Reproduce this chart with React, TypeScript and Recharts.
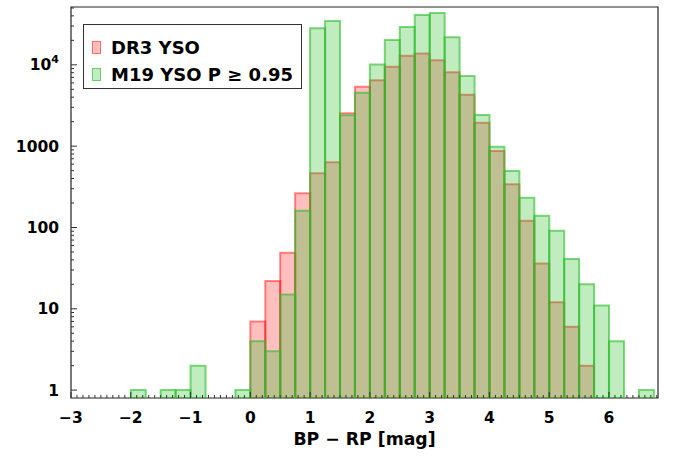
import { ComposedChart, Bar, XAxis, YAxis, Legend, ReferenceArea } from 'recharts';

// lower edge of each colour bin (width 0.25 mag)
const BIN_WIDTH = 0.25;
const binStart = [
    -2, -1.75, -1.5, -1.25, -1, -0.75, -0.5, -0.25,
    0, 0.25, 0.5, 0.75, 1, 1.25, 1.5, 1.75, 2, 2.25, 2.5, 2.75,
    3, 3.25, 3.5, 3.75, 4, 4.25, 4.5, 4.75, 5, 5.25, 5.5, 5.75,
    6, 6.25, 6.5,
];

// counts per bin
const dr3Counts = [
    0, 0, 0, 0, 0, 0, 0, 0,
    7, 22, 49, 263, 463, 632, 2530, 5380, 6450, 9480, 12900, 13800,
    11400, 8090, 4290, 1940, 870, 339, 121, 36, 12, 6, 2, 0,
    0, 0, 0,
];
const m19Counts = [
    1, 0, 1, 1, 2, 0, 0, 1,
    4, 3, 15, 160, 28100, 34600, 2390, 4540, 10100, 20200, 29200, 41000,
    43400, 21800, 7280, 2410, 984, 494, 232, 139, 91, 41, 20, 11,
    4, 0, 1,
];

const xMajorTicks = [-3, -2, -1, 0, 1, 2, 3, 4, 5, 6];
const yMajorTicks = [1, 10, 100, 1000, 10000];

const X_DOMAIN = [-3, 6.82];
const Y_DOMAIN = [0.8, 51400];

const FONT = '"DejaVu Sans", sans-serif';

// zero counts can't sit on a log axis
const data = binStart.map((s, i) => ({
    x: s + BIN_WIDTH / 2,
    dr3: dr3Counts[i] > 0 ? dr3Counts[i] : null,
    m19: m19Counts[i] > 0 ? m19Counts[i] : null,
}));

// minor ticks: every 0.1 on x, 2..9 per decade on y
const xTicks = xMajorTicks.flatMap(t => Array.from({ length: 10 }, (_, k) => +(t + k / 10).toFixed(2)))
    .filter(t => t <= X_DOMAIN[1]);
const yTicks = yMajorTicks.flatMap(t => [1, 2, 3, 4, 5, 6, 7, 8, 9].map(m => t * m))
    .filter(t => t <= Y_DOMAIN[1]);

function XTick(props: any) {
    const { x, y, payload } = props;
    const v = payload.value;
    const major = Math.abs(v - Math.round(v)) < 1e-6;
    return (
        <g>
            <line x1={x} x2={x} y1={y} y2={y - (major ? 6 : 3)} stroke="#333" strokeWidth={1} />
            {major && (
                <text x={x} y={y + 25} textAnchor="middle" fontFamily={FONT} fontWeight="bold" fontSize={15.5} fill="#000">
                    {v < 0 ? `\u2212${Math.abs(v)}` : `${v}`}
                </text>
            )}
        </g>
    );
}

function YTick(props: any) {
    const { x, y, payload } = props;
    const v = payload.value;
    const major = yMajorTicks.includes(v);
    return (
        <g>
            <line x1={x} x2={x + (major ? 6 : 3)} y1={y} y2={y} stroke="#333" strokeWidth={1} />
            {major && (
                <text x={x - 12} y={y + 5.5} textAnchor="end" fontFamily={FONT} fontWeight="bold" fontSize={15.5} fill="#000">
                    {v === 10000 ? (
                        <>
                            10<tspan dy={-7} fontSize={11}>4</tspan>
                        </>
                    ) : `${v}`}
                </text>
            )}
        </g>
    );
}

function LegendBox() {
    const rows = [
        { name: 'DR3 YSO', fill: 'rgba(255,0,0,0.25)', stroke: 'rgba(255,0,0,0.45)' },
        { name: 'M19 YSO P \u2265 0.95', fill: 'rgba(45,192,45,0.3)', stroke: 'rgba(40,190,40,0.6)' },
    ];
    return (
        <div style={{
            width: 219, height: 65, border: '1.5px solid #333', background: '#fff',
            boxSizing: 'border-box', paddingTop: 9, paddingLeft: 8, fontFamily: FONT,
        }}>
            {rows.map(r => (
                <div key={r.name} style={{ display: 'flex', alignItems: 'center', height: 27 }}>
                    <span style={{
                        display: 'inline-block', width: 7, height: 11, background: r.fill,
                        border: `1.5px solid ${r.stroke}`, marginRight: 10,
                    }} />
                    <span style={{ fontSize: 18, fontWeight: 'bold', color: '#000', lineHeight: '20px' }}>{r.name}</span>
                </div>
            ))}
        </div>
    );
}

export default function App() {
    return (
        <div style={{ position: 'absolute', left: 0, top: 0, background: '#fff' }}>
            <ComposedChart
                width={676}
                height={461}
                data={data}
                barCategoryGap={0}
                barGap={0}
                margin={{ top: 7, right: 18, bottom: 0, left: 0 }}
            >
                <XAxis
                    xAxisId="a"
                    dataKey="x"
                    type="number"
                    domain={X_DOMAIN}
                    allowDataOverflow
                    ticks={xTicks}
                    interval={0}
                    tick={<XTick />}
                    tickLine={false}
                    tickSize={0}
                    tickMargin={0}
                    height={63}
                    axisLine={false}
                    label={{
                        value: 'BP \u2212 RP [mag]', position: 'insideBottom', offset: 16,
                        style: { fontFamily: FONT, fontWeight: 'bold', fontSize: 17.3, fill: '#000' },
                    }}
                />
                <XAxis xAxisId="b" dataKey="x" type="number" domain={X_DOMAIN} allowDataOverflow hide />
                <YAxis
                    scale="log"
                    type="number"
                    domain={Y_DOMAIN}
                    allowDataOverflow
                    ticks={yTicks}
                    interval={0}
                    tick={<YTick />}
                    tickLine={false}
                    tickSize={0}
                    tickMargin={0}
                    width={71}
                    axisLine={false}
                />
                {/* plot frame */}
                <ReferenceArea
                    xAxisId="a"
                    x1={X_DOMAIN[0]}
                    x2={X_DOMAIN[1]}
                    y1={Y_DOMAIN[0]}
                    y2={Y_DOMAIN[1]}
                    fill="none"
                    fillOpacity={0}
                    stroke="#222"
                    strokeWidth={1.2}
                    ifOverflow="visible"
                />
                <Legend
                    layout="vertical"
                    align="center"
                    verticalAlign="middle"
                    content={<LegendBox />}
                    wrapperStyle={{ left: 83, top: 24, width: 'auto' }}
                />
                <Bar
                    xAxisId="a"
                    dataKey="dr3"
                    name="DR3 YSO"
                    fill="rgb(255,0,0)"
                    fillOpacity={0.25}
                    stroke="rgb(255,0,0)"
                    strokeOpacity={0.45}
                    strokeWidth={2}
                    isAnimationActive={false}
                />
                <Bar
                    xAxisId="b"
                    dataKey="m19"
                    name="M19 YSO P ≥ 0.95"
                    fill="rgb(45,192,45)"
                    fillOpacity={0.3}
                    stroke="rgb(40,190,40)"
                    strokeOpacity={0.6}
                    strokeWidth={2}
                    isAnimationActive={false}
                />
            </ComposedChart>
        </div>
    );
}
